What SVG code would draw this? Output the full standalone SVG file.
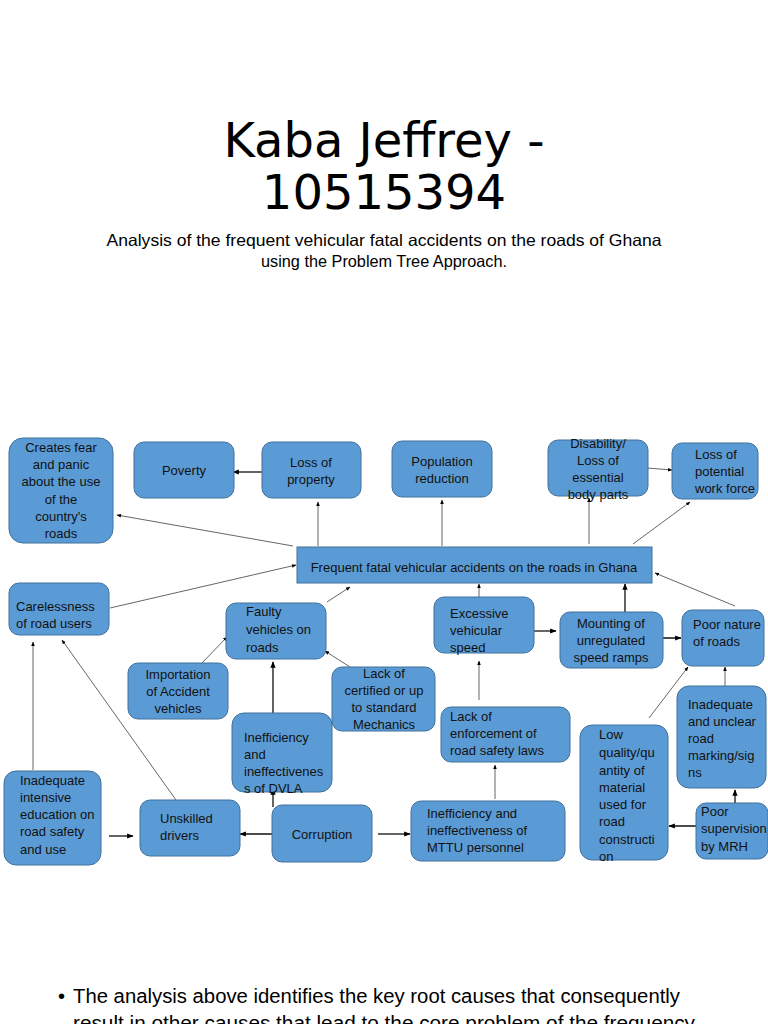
<svg xmlns="http://www.w3.org/2000/svg" width="768" height="1024" viewBox="0 0 768 1024">
<defs>
<marker id="ah" viewBox="0 0 10 10" refX="9" refY="5" markerWidth="5" markerHeight="5" orient="auto-start-reverse">
<path d="M0,1 L10,5 L0,9 z" fill="#000"/>
</marker>
<style>
.n{fill:#5b9bd5;stroke:#41719c;stroke-width:1}
.t{font-family:"Liberation Sans",Arial,sans-serif;font-size:13px;fill:#111}
.c{text-anchor:middle}
.e line{stroke:#555;stroke-width:0.9;marker-end:url(#ah)}
.e line.d{stroke:#111;stroke-width:1.3}
</style>
</defs>
<rect width="768" height="1024" fill="#fff"/>
<g id="title">
<text x="384" y="157" text-anchor="middle" font-family="DejaVu Sans,sans-serif" font-size="48" fill="#000">Kaba Jeffrey -</text>
<text x="384" y="209" text-anchor="middle" font-family="DejaVu Sans,sans-serif" font-size="48" fill="#000">10515394</text>
<text x="384" y="246" text-anchor="middle" font-family="Liberation Sans,Arial,sans-serif" font-size="16.5" fill="#000" textLength="555" lengthAdjust="spacingAndGlyphs">Analysis of the frequent vehicular fatal accidents on the roads of Ghana</text>
<text x="384" y="267" text-anchor="middle" font-family="Liberation Sans,Arial,sans-serif" font-size="16.5" fill="#000" textLength="246" lengthAdjust="spacingAndGlyphs">using the Problem Tree Approach.</text>
</g>
<g class="e" id="connectors">
<line class="d" x1="264" y1="472" x2="233" y2="472"/>
<line x1="318" y1="546" x2="318" y2="502"/>
<line x1="442" y1="546" x2="442" y2="500"/>
<line x1="589" y1="544" x2="589" y2="498"/>
<line x1="647" y1="468" x2="672" y2="470"/>
<line x1="633" y1="544" x2="690" y2="502"/>
<line x1="293" y1="546" x2="117" y2="515"/>
<line x1="110" y1="608" x2="296" y2="565"/>
<line x1="327" y1="602" x2="350" y2="587"/>
<line x1="202" y1="663" x2="227" y2="637"/>
<line x1="350" y1="667" x2="325" y2="651"/>
<line class="d" x1="273" y1="716" x2="273" y2="662"/>
<line class="d" x1="273" y1="807" x2="273" y2="789"/>
<line class="d" x1="275" y1="834" x2="240" y2="834"/>
<line class="d" x1="378" y1="834" x2="410" y2="834"/>
<line class="d" x1="109" y1="836" x2="133" y2="836"/>
<line x1="33" y1="770" x2="33" y2="642"/>
<line x1="176" y1="800" x2="62" y2="640"/>
<line x1="495" y1="799" x2="495" y2="765"/>
<line x1="479" y1="700" x2="479" y2="661"/>
<line x1="479" y1="603" x2="479" y2="584"/>
<line class="d" x1="528" y1="631" x2="556" y2="631"/>
<line class="d" x1="625" y1="612" x2="625" y2="584"/>
<line class="d" x1="637" y1="638" x2="681" y2="638"/>
<line x1="735" y1="606" x2="655" y2="573"/>
<line x1="649" y1="718" x2="688" y2="667"/>
<line x1="725" y1="697" x2="725" y2="667"/>
<line class="d" x1="735" y1="816" x2="735" y2="790"/>
<line class="d" x1="702" y1="826" x2="669" y2="826"/>
</g>
<g id="n-fear"><rect class="n" x="9" y="438" width="104" height="105" rx="14"/>
<text class="t c" x="61"><tspan x="61" y="452">Creates fear</tspan><tspan x="61" y="469">and panic</tspan><tspan x="61" y="486">about the use</tspan><tspan x="61" y="504">of the</tspan><tspan x="61" y="521">country's</tspan><tspan x="61" y="538">roads</tspan></text></g>
<g id="n-poverty"><rect class="n" x="134" y="442" width="100" height="56" rx="10"/>
<text class="t c" x="184" y="475">Poverty</text></g>
<g id="n-property"><rect class="n" x="262" y="442" width="99" height="56" rx="10"/>
<text class="t c"><tspan x="311" y="467">Loss of</tspan><tspan x="311" y="484">property</tspan></text></g>
<g id="n-population"><rect class="n" x="392" y="441" width="100" height="56" rx="10"/>
<text class="t c"><tspan x="442" y="466">Population</tspan><tspan x="442" y="483">reduction</tspan></text></g>
<g id="n-disability"><rect class="n" x="548" y="440" width="100" height="56" rx="10"/>
<text class="t c"><tspan x="598" y="448">Disability/</tspan><tspan x="598" y="465">Loss of</tspan><tspan x="598" y="482">essential</tspan><tspan x="598" y="499">body parts</tspan></text></g>
<g id="n-workforce"><rect class="n" x="672" y="443" width="86" height="56" rx="10"/>
<text class="t"><tspan x="695" y="459">Loss of</tspan><tspan x="695" y="476">potential</tspan><tspan x="695" y="493">work force</tspan></text></g>
<g id="n-core"><rect class="n" x="297" y="547" width="355" height="36"/>
<text class="t c" x="474" y="572">Frequent fatal vehicular accidents on the roads in Ghana</text></g>
<g id="n-careless"><rect class="n" x="9" y="583" width="100" height="52" rx="10"/>
<text class="t"><tspan x="16" y="611">Carelessness</tspan><tspan x="16" y="628">of road users</tspan></text></g>
<g id="n-faulty"><rect class="n" x="226" y="603" width="100" height="56" rx="10"/>
<text class="t"><tspan x="246" y="616">Faulty</tspan><tspan x="246" y="634">vehicles on</tspan><tspan x="246" y="652">roads</tspan></text></g>
<g id="n-import"><rect class="n" x="128" y="663" width="100" height="56" rx="10"/>
<text class="t c"><tspan x="178" y="679">Importation</tspan><tspan x="178" y="696">of Accident</tspan><tspan x="178" y="713">vehicles</tspan></text></g>
<g id="n-mechanics"><rect class="n" x="332" y="667" width="103" height="64" rx="10"/>
<text class="t c"><tspan x="384" y="678">Lack of</tspan><tspan x="384" y="695">certified or up</tspan><tspan x="384" y="712">to standard</tspan><tspan x="384" y="729">Mechanics</tspan></text></g>
<g id="n-dvla"><rect class="n" x="232" y="713" width="100" height="79" rx="12"/>
<text class="t"><tspan x="244" y="742">Inefficiency</tspan><tspan x="244" y="759">and</tspan><tspan x="244" y="776">ineffectivenes</tspan><tspan x="244" y="793">s of DVLA</tspan></text></g>
<g id="n-speed"><rect class="n" x="434" y="597" width="100" height="56" rx="10"/>
<text class="t"><tspan x="450" y="618">Excessive</tspan><tspan x="450" y="635">vehicular</tspan><tspan x="450" y="652">speed</tspan></text></g>
<g id="n-ramps"><rect class="n" x="560" y="612" width="103" height="56" rx="10"/>
<text class="t c"><tspan x="611" y="628">Mounting of</tspan><tspan x="611" y="645">unregulated</tspan><tspan x="611" y="662">speed ramps</tspan></text></g>
<g id="n-poorroads"><rect class="n" x="682" y="610" width="82" height="56" rx="10"/>
<text class="t"><tspan x="693" y="629">Poor nature</tspan><tspan x="693" y="646">of roads</tspan></text></g>
<g id="n-enforce"><rect class="n" x="441" y="707" width="129" height="55" rx="10"/>
<text class="t"><tspan x="450" y="721">Lack of</tspan><tspan x="450" y="738">enforcement of</tspan><tspan x="450" y="755">road safety laws</tspan></text></g>
<g id="n-marking"><rect class="n" x="677" y="686" width="89" height="102" rx="12"/>
<text class="t"><tspan x="688" y="709">Inadequate</tspan><tspan x="688" y="726">and unclear</tspan><tspan x="688" y="743">road</tspan><tspan x="688" y="760">marking/sig</tspan><tspan x="688" y="777">ns</tspan></text></g>
<g id="n-material"><rect class="n" x="580" y="725" width="88" height="135" rx="12"/>
<text class="t"><tspan x="599" y="739">Low</tspan><tspan x="599" y="757">quality/qu</tspan><tspan x="599" y="775">antity of</tspan><tspan x="599" y="792">material</tspan><tspan x="599" y="809">used for</tspan><tspan x="599" y="826">road</tspan><tspan x="599" y="844">constructi</tspan><tspan x="599" y="861">on</tspan></text></g>
<g id="n-mrh"><rect class="n" x="696" y="803" width="72" height="56" rx="10"/>
<text class="t"><tspan x="701" y="816">Poor</tspan><tspan x="701" y="833">supervision</tspan><tspan x="701" y="851">by MRH</tspan></text></g>
<g id="n-education"><rect class="n" x="4" y="771" width="97" height="94" rx="12"/>
<text class="t"><tspan x="20" y="785">Inadequate</tspan><tspan x="20" y="802">intensive</tspan><tspan x="20" y="819">education on</tspan><tspan x="20" y="836">road safety</tspan><tspan x="20" y="854">and use</tspan></text></g>
<g id="n-unskilled"><rect class="n" x="140" y="800" width="100" height="56" rx="10"/>
<text class="t"><tspan x="160" y="823">Unskilled</tspan><tspan x="160" y="840">drivers</tspan></text></g>
<g id="n-corruption"><rect class="n" x="272" y="805" width="100" height="57" rx="10"/>
<text class="t c" x="322" y="839">Corruption</text></g>
<g id="n-mttu"><rect class="n" x="411" y="801" width="154" height="60" rx="10"/>
<text class="t"><tspan x="427" y="818">Inefficiency and</tspan><tspan x="427" y="835">ineffectiveness of</tspan><tspan x="427" y="852">MTTU personnel</tspan></text></g>
<g id="bottom">
<text x="58" y="1003" font-family="Liberation Sans,Arial,sans-serif" font-size="20" fill="#000">•</text>
<text x="73" y="1003" font-family="Liberation Sans,Arial,sans-serif" font-size="20" fill="#000" textLength="607" lengthAdjust="spacingAndGlyphs">The analysis above identifies the key root causes that consequently</text>
<text x="73" y="1030" font-family="Liberation Sans,Arial,sans-serif" font-size="20" fill="#000" textLength="622" lengthAdjust="spacingAndGlyphs">result in other causes that lead to the core problem of the frequency</text>
</g>
</svg>
